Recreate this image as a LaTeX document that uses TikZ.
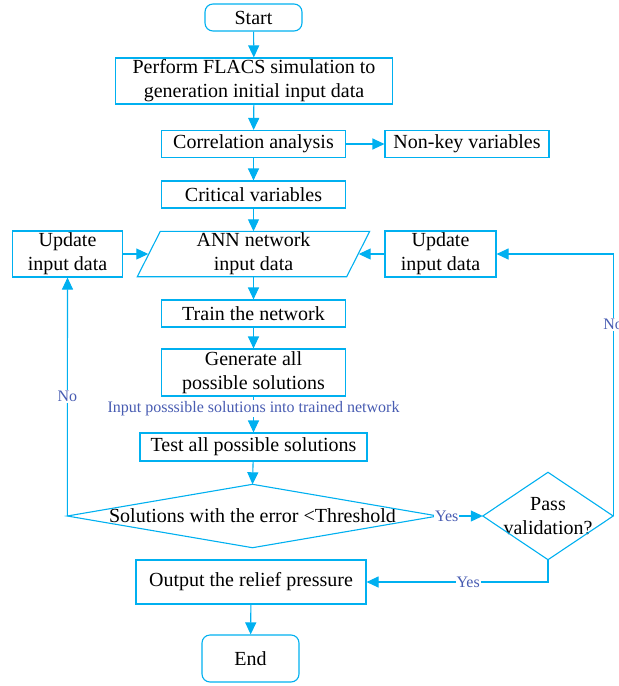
\documentclass[tikz,border=0pt]{standalone}
\usepackage{fontspec}
\setmainfont{Liberation Serif}
\usetikzlibrary{arrows.meta}
\definecolor{lc}{RGB}{0,176,240}
\definecolor{lab}{RGB}{72,92,178}
\begin{document}
\begin{tikzpicture}[x=1pt,y=-1pt,
  every node/.style={font=\fontsize{20}{24}\selectfont, align=center, inner sep=0pt},
  box/.style={draw=lc, line width=1.1pt, rectangle, minimum height=27pt},
  term/.style={box, rounded corners=8pt},
  ghost/.style={rectangle},
  arr/.style={draw=lc, line width=1.1pt, -{Triangle[length=12pt,width=11pt]}},
  lbl/.style={font=\fontsize{16}{19}\selectfont, text=lab, fill=white, inner sep=1pt},
  shp/.style={draw=lc, line width=1.1pt, line join=miter}
]
\useasboundingbox (0,0) rectangle (619,686);

\node[term, minimum width=97pt, minimum height=27pt] (start) at (253.5,17.5) {Start};
\node[box, minimum width=277pt, minimum height=46pt] (perf) at (254,81) {Perform FLACS simulation to\\generation initial input data};
\node[box, minimum width=184pt] (corr) at (253.5,144) {Correlation analysis};
\node[box, minimum width=164pt] (nonkey) at (467,144) {Non-key variables};
\node[box, minimum width=184pt] (crit) at (253.5,194.5) {Critical variables};
\node[ghost, minimum width=210pt, minimum height=45pt] (ann) at (253.5,254) {ANN network\\input data};
\draw[shp] ([xshift=-11pt]ann.south west) -- ([xshift=12pt]ann.north west) -- ([xshift=11pt]ann.north east) -- ([xshift=-12pt]ann.south east) -- cycle;
\node[box, minimum width=110pt, minimum height=46pt] (upL) at (67.5,254) {Update\\input data};
\node[box, minimum width=111pt, minimum height=46pt] (upR) at (440.5,254) {Update\\input data};
\node[box, minimum width=184pt] (train) at (253.5,313.5) {Train the network};
\node[box, minimum width=184pt, minimum height=47pt] (gen) at (253.5,372.5) {Generate all\\possible solutions};
\node[box, minimum width=227pt, minimum height=28pt] (test) at (253.5,447) {Test all possible solutions};
\node[ghost, minimum width=370pt, minimum height=63pt] (dec) at (252.5,516) {Solutions with the error <Threshold};
\draw[shp] (dec.west) -- (dec.north) -- (dec.east) -- (dec.south) -- cycle;
\node[ghost, minimum width=130pt, minimum height=87pt] (pass) at (548,516) {Pass\\validation?};
\draw[shp] (pass.west) -- (pass.north) -- (pass.east) -- (pass.south) -- cycle;
\node[box, minimum width=230pt, minimum height=44pt] (out) at (251,582) {Output the relief pressure};
\node[term, minimum width=97pt, minimum height=47pt] (end) at (250.5,658.5) {End};

\draw[arr] (start) -- (perf);
\draw[arr] (perf) -- (corr);
\draw[arr] (corr) -- (nonkey);
\draw[arr] (corr) -- (crit);
\draw[arr] (crit) -- (ann);
\draw[arr] (upL) -- (ann.west);
\draw[arr] (upR) -- (ann.east);
\draw[arr] (ann) -- (train);
\draw[arr] (train) -- (gen);
\draw[arr] (gen) -- node[lbl, pos=0.33]{Input posssible solutions into trained network} (test);
\draw[arr] (test) -- (dec.north);
\draw[arr] (dec.west) -- node[lbl, pos=0.5]{No} (upL.south);
\draw[arr] (dec.east) -- node[lbl, pos=0.2]{Yes} (pass.west);
\draw[arr] (pass.east) |- node[lbl, pos=0.365]{No} (upR.east);
\draw[arr] (pass.south) |- node[lbl, pos=0.72]{Yes} (out.east);
\draw[arr] (out) -- (end);
\end{tikzpicture}
\end{document}
